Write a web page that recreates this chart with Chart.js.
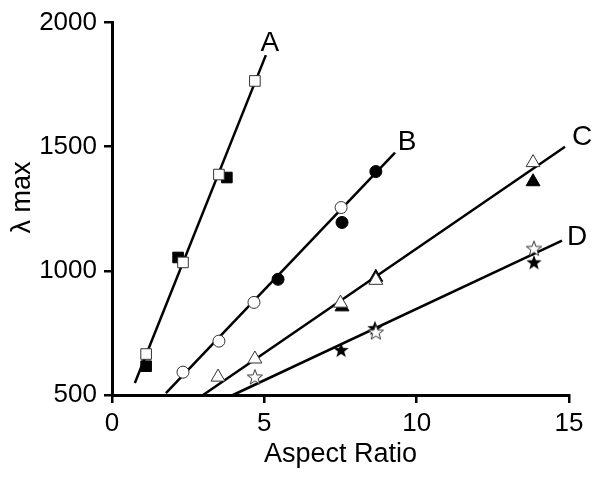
<!DOCTYPE html>
<html>
<head>
<meta charset="utf-8">
<script src="https://cdn.jsdelivr.net/npm/chart.js@4"></script>
<style>
  html, body { margin: 0; padding: 0; background: #ffffff; }
</style>
</head>
<body>
<canvas id="chart" width="602" height="480"></canvas>
<script>
// measured points (aspect ratio, lambda max)
const aOpenX = [1.12, 2.33, 3.51, 4.69];
const aOpenY = [665, 1034, 1388, 1765];
const aFilledX = [1.12, 2.17, 3.77];
const aFilledY = [616, 1054, 1376];

const bOpenX = [2.33, 3.51, 4.66, 7.52];
const bOpenY = [592, 717, 873, 1255];
const bFilledX = [5.45, 7.55, 8.66];
const bFilledY = [966, 1195, 1400];

const cOpenX = [3.48, 4.69, 7.5, 8.66, 13.82];
const cOpenY = [572, 645, 870, 962, 1436];
const cFilledX = [7.55, 8.66, 13.82];
const cFilledY = [855, 974, 1359];

const dOpenX = [4.69, 8.66, 13.85];
const dOpenY = [572, 753, 1090];
const dFilledX = [7.52, 8.63, 13.85];
const dFilledY = [681, 769, 1034];

// fitted lines: start and end
const lineNames = ["A", "B", "C", "D"];
const lineX = [[0.75, 5.05], [1.77, 9.29], [2.99, 14.87], [3.97, 14.77]];
const lineY = [[548, 1869], [508, 1476], [500, 1500], [500, 1122]];

const xTicks = [0, 5, 10, 15];
const yTicks = [500, 1000, 1500, 2000];

const FONT = "'Liberation Sans', Arial, sans-serif";
const labelOffsets = [[4, -12], [12, -10], [17, -9], [15, -3]];

function pts(xs, ys) {
  return xs.map((x, i) => ({ x, y: ys[i] }));
}

function makeStar(filled) {
  const c = document.createElement("canvas");
  c.width = 18;
  c.height = 18;
  const ctx = c.getContext("2d");
  ctx.beginPath();
  for (let i = 0; i < 10; i++) {
    const r = i % 2 === 0 ? 8 : 3.3;
    const a = -Math.PI / 2 + i * Math.PI / 5;
    const px = 9 + r * Math.cos(a);
    const py = 9.5 + r * Math.sin(a);
    if (i === 0) ctx.moveTo(px, py); else ctx.lineTo(px, py);
  }
  ctx.closePath();
  if (filled) {
    ctx.fillStyle = "#000";
    ctx.fill();
  } else {
    ctx.fillStyle = "#fff";
    ctx.fill();
    ctx.strokeStyle = "#333";
    ctx.lineWidth = 1;
    ctx.stroke();
  }
  return c;
}

function markers(data, style, radius, filled) {
  return {
    type: "scatter",
    data,
    pointStyle: style,
    pointRadius: radius,
    pointHoverRadius: radius,
    backgroundColor: filled ? "#000" : "#fff",
    borderColor: filled ? "#000" : "#333",
    borderWidth: 1,
    showLine: false,
    clip: false,
  };
}

const lineSets = lineNames.map((name, i) => ({
  type: "line",
  label: name,
  data: pts(lineX[i], lineY[i]),
  borderColor: "#000",
  borderWidth: 2.5,
  pointRadius: 0,
  fill: false,
  tension: 0,
  clip: false,
  order: 10,
}));

const lineLabels = {
  id: "lineLabels",
  afterDatasetsDraw(chart) {
    const { ctx, scales } = chart;
    ctx.save();
    ctx.font = "28px " + FONT;
    ctx.fillStyle = "#000";
    ctx.textAlign = "center";
    ctx.textBaseline = "middle";
    lineNames.forEach((name, i) => {
      const px = scales.x.getPixelForValue(lineX[i][1]) + labelOffsets[i][0];
      const py = scales.y.getPixelForValue(lineY[i][1]) + labelOffsets[i][1];
      ctx.fillText(name, px, py);
    });
    ctx.restore();
  },
};

const axisStyle = {
  grid: {
    display: true,
    drawOnChartArea: false,
    drawTicks: true,
    tickLength: 8,
    color: "#000",
    lineWidth: 2.5,
  },
  border: { display: true, color: "#000", width: 3 },
};

new Chart(document.getElementById("chart"), {
  data: {
    datasets: [
      ...lineSets,
      markers(pts(aOpenX, aOpenY), "rect", 7.5, false),
      markers(pts(aFilledX, aFilledY), "rect", 7.5, true),
      markers(pts(bOpenX, bOpenY), "circle", 6, false),
      markers(pts(bFilledX, bFilledY), "circle", 6, true),
      markers(pts(cOpenX, cOpenY), "triangle", 8, false),
      markers(pts(cFilledX, cFilledY), "triangle", 8, true),
      markers(pts(dOpenX, dOpenY), makeStar(false), 8, false),
      markers(pts(dFilledX, dFilledY), makeStar(true), 8, true),
    ],
  },
  options: {
    responsive: false,
    animation: false,
    layout: { padding: { top: 22, right: 33, left: 0, bottom: 0 } },
    plugins: {
      legend: { display: false },
      tooltip: { enabled: false },
    },
    scales: {
      x: {
        type: "linear",
        min: 0,
        max: 15,
        afterBuildTicks(scale) {
          scale.ticks = xTicks.map((value) => ({ value }));
        },
        ticks: {
          color: "#000",
          font: { family: FONT, size: 26 },
          padding: 5,
          maxRotation: 0,
          callback: (v) => String(v),
        },
        title: {
          display: true,
          text: "Aspect Ratio",
          color: "#000",
          font: { family: FONT, size: 27 },
          padding: { top: 0, bottom: 9 },
        },
        afterFit(scale) { scale.height = 85; },
        ...axisStyle,
      },
      y: {
        type: "linear",
        min: 500,
        max: 2000,
        afterBuildTicks(scale) {
          scale.ticks = yTicks.map((value) => ({ value }));
        },
        ticks: {
          color: "#000",
          font: { family: FONT, size: 26 },
          padding: 7,
          callback: (v) => String(v),
        },
        title: {
          display: true,
          text: "\u00a0\u00a0\u00a0λ max",
          color: "#000",
          font: { family: FONT, size: 27 },
          padding: { top: 6, bottom: 0 },
        },
        afterFit(scale) { scale.width = 112; },
        ...axisStyle,
      },
    },
  },
  plugins: [lineLabels],
});
</script>
</body>
</html>
